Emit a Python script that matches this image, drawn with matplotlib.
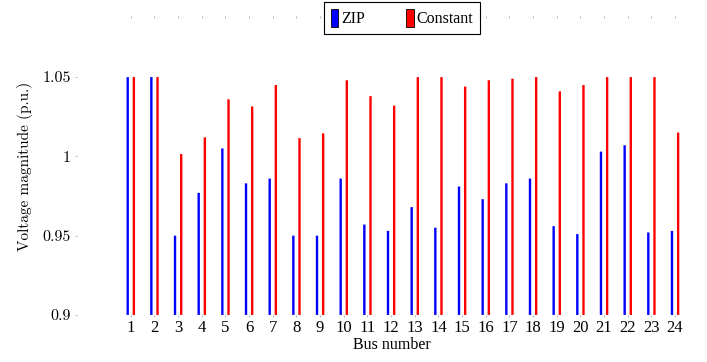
import numpy as np
import matplotlib
matplotlib.use("Agg")
import matplotlib.pyplot as plt

buses = list(range(1, 25))
zip_v = [1.05, 1.05, 0.950, 0.977, 1.005, 0.983, 0.986, 0.950, 0.950, 0.986, 0.957, 0.953,
         0.968, 0.955, 0.981, 0.973, 0.983, 0.986, 0.956, 0.951, 1.003, 1.007, 0.952, 0.953]
const_v = [1.05, 1.05, 1.0015, 1.012, 1.036, 1.0315, 1.045, 1.0115, 1.0145, 1.048, 1.038, 1.032,
           1.05, 1.05, 1.044, 1.048, 1.049, 1.05, 1.041, 1.045, 1.05, 1.05, 1.05, 1.015]
yticks = [0.9, 0.95, 1.0, 1.05]
ytick_labels = ["0.9", "0.95", "1", "1.05"]

plt.rcParams['font.family'] = ['Liberation Serif', 'DejaVu Serif']
cm_font = ['cmr10', 'DejaVu Serif']

fig = plt.figure(figsize=(7.07, 3.62), dpi=100)
ax = fig.add_axes([0.109, 0.130, 0.891, 0.820])

x = np.array(buses)
w = 0.1
off = 0.13
b1 = ax.bar(x - off, np.array(zip_v) - 0.9, width=w, bottom=0.9, color='#0000ff', label='ZIP')
b2 = ax.bar(x + off, np.array(const_v) - 0.9, width=w, bottom=0.9, color='#ff0000', label='Constant')
for p in list(b1) + list(b2):
    p.set_snap(False)

ax.set_xlim(-1.27, 25.35)
ax.set_ylim(0.9, 1.0872)
ax.set_xticks(buses)
ax.set_xticklabels([str(b) for b in buses], fontsize=12)
ax.set_yticks(yticks)
ax.set_yticklabels(ytick_labels, fontsize=11.5, family=cm_font)
for s in ax.spines.values():
    s.set_visible(False)
ax.tick_params(axis='x', top=True, length=1.5, width=0.6, color='#aaaaaa', pad=2)
ax.tick_params(axis='y', length=1.5, width=0.6, color='#aaaaaa', pad=3)

ax.set_xlabel("Bus number", fontsize=11.5, labelpad=1)
ax.set_ylabel("Voltage magnitude (p.u.)", fontsize=11, family=cm_font, labelpad=7)

leg = ax.legend(loc='center', bbox_to_anchor=(0.516, 1.0), ncol=2, fontsize=11.5,
                frameon=True, fancybox=False, edgecolor='black', framealpha=1,
                handlelength=0.45, handleheight=1.4, handletextpad=0.2,
                columnspacing=2.6, borderpad=0.4, borderaxespad=0)
leg.get_frame().set_linewidth(0.8)
for h in leg.legend_handles:
    h.set_edgecolor('black')
    h.set_linewidth(0.6)

fig.savefig("out.png", dpi=100)
